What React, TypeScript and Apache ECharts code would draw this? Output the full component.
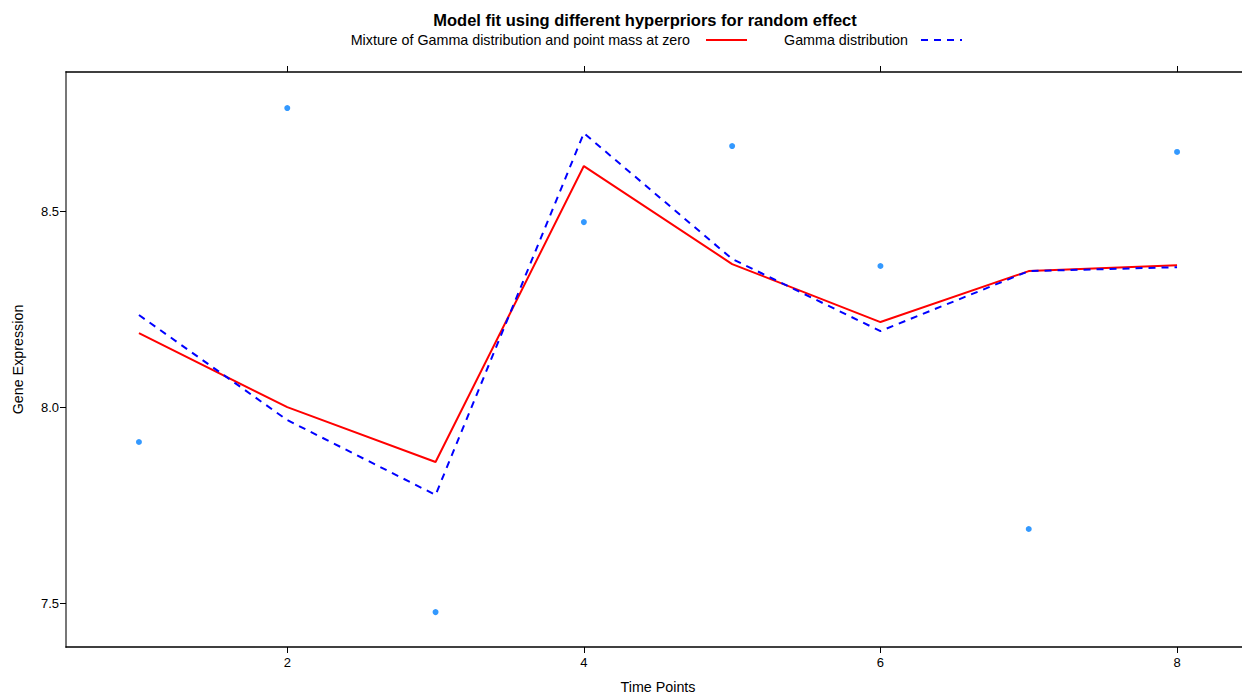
import React, { useEffect, useRef } from "react";
import * as echarts from "echarts";

const timePoints = [1, 2, 3, 4, 5, 6, 7, 8];
const observed = [7.911, 8.763, 7.477, 8.472, 8.666, 8.36, 7.689, 8.651];
const mixtureFit = [8.189, 8.0, 7.86, 8.615, 8.365, 8.217, 8.347, 8.362];
const gammaFit = [8.235, 7.967, 7.776, 8.699, 8.378, 8.194, 8.347, 8.357];
const xTicks = [2, 4, 6, 8];
const yTicks = [7.5, 8.0, 8.5];

const titleText = "Model fit using different hyperpriors for random effect";
const legendMixture = "Mixture of Gamma distribution and point mass at zero";
const legendGamma = "Gamma distribution";

const FONT = "'Liberation Sans', Arial, Helvetica, sans-serif";

export default function App() {
  const ref = useRef<HTMLDivElement>(null);
  useEffect(() => {
    if (!ref.current) return;
    const chart = echarts.init(ref.current, undefined, { renderer: "svg" });
    const pair = (vals: number[]) => timePoints.map((t, i) => [t, vals[i]]);
    chart.setOption({
      animation: false,
      backgroundColor: "#ffffff",
      textStyle: { fontFamily: FONT },
      grid: { left: 66, right: 0, top: 72, bottom: 49, containLabel: false, outerBoundsMode: "none" },
      xAxis: [
        {
          type: "value",
          position: "bottom",
          min: 0.508,
          max: 8.438,
          name: "Time Points",
          nameLocation: "middle",
          nameGap: 33,
          nameTextStyle: { fontSize: 14.3, color: "#000", fontFamily: FONT, padding: [0, 0, 0, 8] },
          splitLine: { show: false },
          axisLine: { show: true, onZero: false, lineStyle: { color: "#000", width: 1.5 } },
          axisTick: { show: true, inside: false, length: 6, customValues: xTicks, lineStyle: { color: "#000" } },
          axisLabel: { show: true, margin: 9, fontSize: 13, color: "#000", fontFamily: FONT, customValues: xTicks },
        },
        {
          type: "value",
          position: "top",
          min: 0.508,
          max: 8.438,
          splitLine: { show: false },
          axisLine: { show: true, onZero: false, lineStyle: { color: "#000", width: 1.5 } },
          axisTick: { show: true, inside: false, length: 6, customValues: xTicks, lineStyle: { color: "#000" } },
          axisLabel: { show: false },
        },
      ],
      yAxis: {
        type: "value",
        min: 7.388,
        max: 8.855,
        name: "Gene Expression",
        nameLocation: "middle",
        nameGap: 41,
        nameTextStyle: { fontSize: 14.3, color: "#000", fontFamily: FONT },
        splitLine: { show: false },
        axisLine: { show: true, onZero: false, lineStyle: { color: "#777", width: 2 } },
        axisTick: { show: true, inside: false, length: 6, customValues: yTicks, lineStyle: { color: "#000" } },
        axisLabel: {
          show: true,
          margin: 7,
          fontSize: 13,
          color: "#000",
          fontFamily: FONT,
          customValues: yTicks,
          formatter: (v: number) => v.toFixed(1),
        },
      },
      graphic: [
        {
          type: "text",
          x: 645,
          y: 20,
          style: { text: titleText, font: `bold 16.5px ${FONT}`, fill: "#000", align: "center", verticalAlign: "middle" },
        },
        {
          type: "text",
          x: 690,
          y: 40,
          style: { text: legendMixture, font: `14.3px ${FONT}`, fill: "#000", align: "right", verticalAlign: "middle" },
        },
        {
          type: "line",
          shape: { x1: 706, y1: 40, x2: 747, y2: 40 },
          style: { stroke: "#ff0000", lineWidth: 2 },
        },
        {
          type: "text",
          x: 908,
          y: 40,
          style: { text: legendGamma, font: `14.3px ${FONT}`, fill: "#000", align: "right", verticalAlign: "middle" },
        },
        {
          type: "line",
          shape: { x1: 921, y1: 40, x2: 962, y2: 40 },
          style: { stroke: "#0000ff", lineWidth: 2, lineDash: [7, 6] },
        },
      ],
      series: [
        {
          name: legendMixture,
          type: "line",
          data: pair(mixtureFit),
          showSymbol: false,
          symbol: "none",
          lineStyle: { color: "#ff0000", width: 2 },
          z: 3,
        },
        {
          name: legendGamma,
          type: "line",
          data: pair(gammaFit),
          showSymbol: false,
          symbol: "none",
          lineStyle: { color: "#0000ff", width: 2, type: [7, 6] },
          z: 4,
        },
        {
          name: "Observed",
          type: "scatter",
          data: pair(observed),
          symbol: "circle",
          symbolSize: 6,
          itemStyle: { color: "#0080ff" },
          z: 5,
        },
      ],
    });
    return () => chart.dispose();
  }, []);
  return (
    <div
      ref={ref}
      style={{ position: "absolute", left: 0, top: 0, width: 1242, height: 696, background: "#fff" }}
    />
  );
}
